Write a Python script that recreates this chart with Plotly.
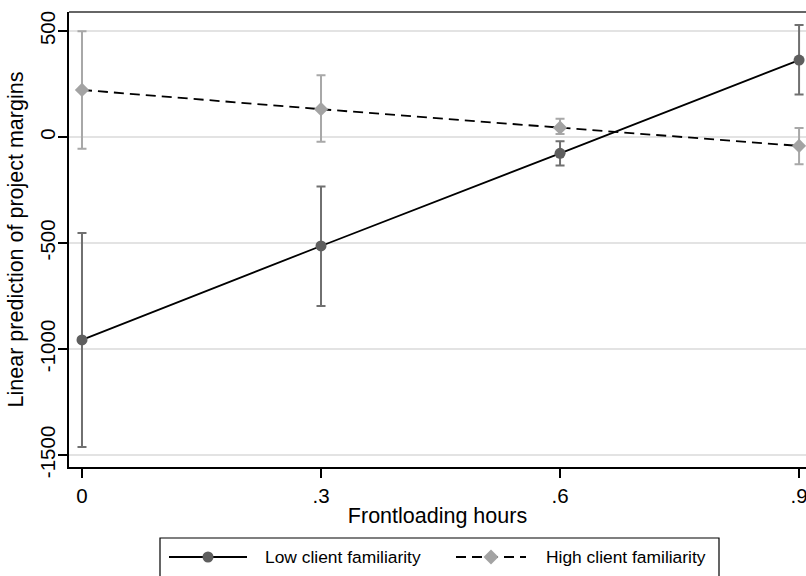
import plotly.graph_objects as go

# ---- data ----
x_vals = [0.0, 0.3, 0.6, 0.9]
x_ticktext = ["0", ".3", ".6", ".9"]
y_tickvals = [-1500, -1000, -500, 0, 500]
y_ticktext = ["-1500", "-1000", "-500", "0", "500"]

low_name = "Low client familiarity"
low_mean = [-957, -514, -77, 363]
low_lower = [-1462, -797, -134, 200]
low_upper = [-453, -234, -20, 528]

high_name = "High client familiarity"
high_mean = [222, 131, 44, -42]
high_lower = [-55, -22, 14, -129]
high_upper = [499, 291, 86, 42]

W, H = 806, 576
ML, MR, MT, MB = 69, 0, 12, H - 467
PW, PH = W - ML - MR, H - MT - MB


def pxx(px):  # page pixel x -> paper x
    return (px - ML) / PW


def pxy(py):  # page pixel y -> paper y
    return (H - MB - py) / PH


fig = go.Figure()

fig.add_trace(go.Scatter(
    x=x_vals, y=low_mean, name=low_name, mode="lines+markers",
    line=dict(color="black", width=1.8),
    marker=dict(symbol="circle", size=11, color="#5e5e5e"),
    error_y=dict(type="data", symmetric=False,
                 array=[u - m for u, m in zip(low_upper, low_mean)],
                 arrayminus=[m - l for m, l in zip(low_mean, low_lower)],
                 color="#707070", thickness=2, width=4.5),
    showlegend=False, cliponaxis=False,
))

fig.add_trace(go.Scatter(
    x=x_vals, y=high_mean, name=high_name, mode="lines+markers",
    line=dict(color="black", width=1.8, dash="10px,6px"),
    marker=dict(symbol="diamond", size=11, color="#a3a3a3"),
    error_y=dict(type="data", symmetric=False,
                 array=[u - m for u, m in zip(high_upper, high_mean)],
                 arrayminus=[m - l for m, l in zip(high_mean, high_lower)],
                 color="#a8a8a8", thickness=2, width=4.5),
    showlegend=False, cliponaxis=False,
))

font_family = "Liberation Sans, Arial, sans-serif"

fig.update_xaxes(
    range=[-0.0163, 0.9087], automargin=False,
    tickvals=x_vals, ticktext=x_ticktext, ticklabeloverflow="allow",
    ticks="outside", ticklen=9, tickwidth=1.5, tickcolor="black",
    showline=True, linecolor="black", linewidth=1.8,
    showgrid=False, zeroline=False,
    tickfont=dict(size=20.5, color="black", family=font_family),
    title=dict(text="Frontloading hours", standoff=2,
               font=dict(size=21.5, color="black", family=font_family)),
)

fig.update_yaxes(
    range=[-1556.6, 589.6], automargin=False,
    tickvals=y_tickvals, ticktext=y_ticktext, tickangle=-90,
    ticklabeloverflow="allow",
    ticks="outside", ticklen=9, tickwidth=1.5, tickcolor="black",
    ticklabelstandoff=-5,
    showline=True, linecolor="black", linewidth=1.8,
    showgrid=True, gridcolor="#e3e3e3", gridwidth=1.5, zeroline=False,
    tickfont=dict(size=20.5, color="black", family=font_family),
    title=dict(text="Linear prediction of project margins", standoff=6,
               font=dict(size=21.5, color="black", family=font_family)),
)

shapes = [
    # top frame line
    dict(type="line", xref="paper", yref="paper", x0=0, x1=1, y0=1, y1=1,
         line=dict(color="#333333", width=1.5)),
    # legend box
    dict(type="rect", xref="paper", yref="paper",
         x0=pxx(160), x1=pxx(719), y0=pxy(538), y1=pxy(590),
         line=dict(color="black", width=1.2), fillcolor="white", layer="above"),
    # low legend line + marker
    dict(type="line", xref="paper", yref="paper",
         x0=pxx(169), x1=pxx(247), y0=pxy(557), y1=pxy(557),
         line=dict(color="black", width=1.8)),
    dict(type="circle", xref="paper", yref="paper",
         x0=pxx(202.5), x1=pxx(213.5), y0=pxy(551.5), y1=pxy(562.5),
         line=dict(color="#5e5e5e", width=0), fillcolor="#5e5e5e"),
    # high legend dashed line + diamond
    dict(type="line", xref="paper", yref="paper",
         x0=pxx(456), x1=pxx(526), y0=pxy(557), y1=pxy(557),
         line=dict(color="black", width=1.8, dash="10px,6px")),
    dict(type="path", xref="paper", yref="paper",
         path=(f"M {pxx(483.5)},{pxy(557)} L {pxx(491)},{pxy(549.5)} "
               f"L {pxx(498.5)},{pxy(557)} L {pxx(491)},{pxy(564.5)} Z"),
         line=dict(color="#a3a3a3", width=0), fillcolor="#a3a3a3"),
]

annotations = [
    dict(xref="paper", yref="paper", x=pxx(263), y=pxy(557), text=low_name,
         showarrow=False, xanchor="left", yanchor="middle",
         font=dict(size=17.4, color="black", family=font_family)),
    dict(xref="paper", yref="paper", x=pxx(544), y=pxy(557), text=high_name,
         showarrow=False, xanchor="left", yanchor="middle",
         font=dict(size=17.4, color="black", family=font_family)),
]

fig.update_layout(
    width=W, height=H,
    margin=dict(l=ML, r=MR, t=MT, b=MB, autoexpand=False),
    paper_bgcolor="white", plot_bgcolor="white",
    shapes=shapes, annotations=annotations,
    showlegend=False,
    font=dict(family=font_family, color="black"),
)

fig.write_html(
    "out.html",
    config={"displayModeBar": False},
    post_script="document.body.style.margin='0px';"
                "document.body.style.overflow='hidden';"
                "document.documentElement.style.overflow='hidden';",
)
